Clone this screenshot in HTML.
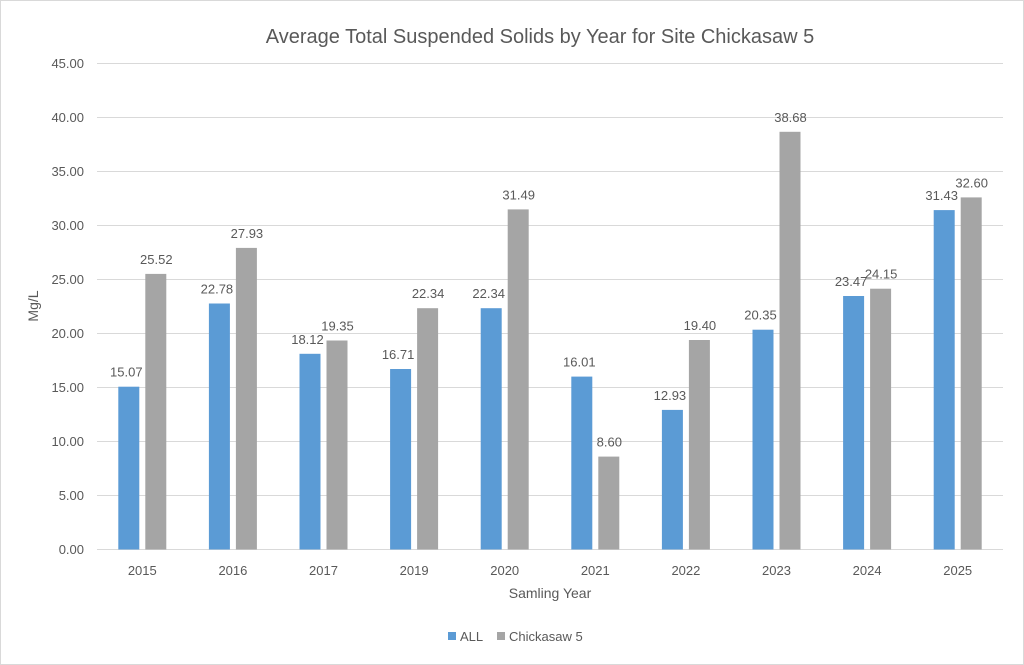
<!DOCTYPE html>
<html><head><meta charset="utf-8"><style>
html,body{margin:0;padding:0;background:#fff}
svg{display:block}
text{font-family:"Liberation Sans",sans-serif;fill:#595959}
</style></head><body>
<svg width="1024" height="665" viewBox="0 0 1024 665" xmlns="http://www.w3.org/2000/svg">
<rect x="0.5" y="0.5" width="1023" height="664" fill="#fff" stroke="#d9d9d9"/>
<text x="540" y="43" font-size="20" text-anchor="middle">Average Total Suspended Solids by Year for Site Chickasaw 5</text>
<g stroke="#d9d9d9" stroke-width="1">
<line x1="97" x2="1003" y1="63.5" y2="63.5"/><line x1="97" x2="1003" y1="117.5" y2="117.5"/>
<line x1="97" x2="1003" y1="171.5" y2="171.5"/><line x1="97" x2="1003" y1="225.5" y2="225.5"/>
<line x1="97" x2="1003" y1="279.5" y2="279.5"/><line x1="97" x2="1003" y1="333.5" y2="333.5"/>
<line x1="97" x2="1003" y1="387.5" y2="387.5"/><line x1="97" x2="1003" y1="441.5" y2="441.5"/>
<line x1="97" x2="1003" y1="495.5" y2="495.5"/><line x1="97" x2="1003" y1="549.5" y2="549.5"/>
</g>
<g font-size="13" text-anchor="end">
<text x="84" y="68">45.00</text><text x="84" y="122">40.00</text><text x="84" y="176">35.00</text>
<text x="84" y="230">30.00</text><text x="84" y="284">25.00</text><text x="84" y="338">20.00</text>
<text x="84" y="392">15.00</text><text x="84" y="446">10.00</text><text x="84" y="500">5.00</text>
<text x="84" y="554">0.00</text>
</g>
<text x="38" y="306" font-size="14" text-anchor="middle" transform="rotate(-90 38 306)">Mg/L</text>
<g fill="#5b9bd5">
<rect x="118.3" y="386.7" width="21" height="162.8"/>
<rect x="208.9" y="303.5" width="21" height="246"/>
<rect x="299.5" y="353.8" width="21" height="195.7"/>
<rect x="390.1" y="369.0" width="21" height="180.5"/>
<rect x="480.7" y="308.2" width="21" height="241.3"/>
<rect x="571.3" y="376.6" width="21" height="172.9"/>
<rect x="661.9" y="409.9" width="21" height="139.6"/>
<rect x="752.5" y="329.7" width="21" height="219.8"/>
<rect x="843.1" y="296.0" width="21" height="253.5"/>
<rect x="933.7" y="210.1" width="21" height="339.4"/>
</g>
<g fill="#a5a5a5">
<rect x="145.3" y="273.9" width="21" height="275.6"/>
<rect x="235.9" y="247.9" width="21" height="301.6"/>
<rect x="326.5" y="340.5" width="21" height="209"/>
<rect x="417.1" y="308.2" width="21" height="241.3"/>
<rect x="507.7" y="209.4" width="21" height="340.1"/>
<rect x="598.3" y="456.6" width="21" height="92.9"/>
<rect x="688.9" y="340.0" width="21" height="209.5"/>
<rect x="779.5" y="131.8" width="21" height="417.7"/>
<rect x="870.1" y="288.7" width="21" height="260.8"/>
<rect x="960.7" y="197.4" width="21" height="352.1"/>
</g>
<g font-size="13" text-anchor="middle">
<text x="126.3" y="376.7">15.07</text><text x="156.3" y="263.9">25.52</text>
<text x="216.9" y="293.5">22.78</text><text x="246.9" y="237.9">27.93</text>
<text x="307.5" y="343.8">18.12</text><text x="337.5" y="330.5">19.35</text>
<text x="398.1" y="359.0">16.71</text><text x="428.1" y="298.2">22.34</text>
<text x="488.7" y="298.2">22.34</text><text x="518.7" y="199.4">31.49</text>
<text x="579.3" y="366.6">16.01</text><text x="609.3" y="446.6">8.60</text>
<text x="669.9" y="399.9">12.93</text><text x="699.9" y="330.0">19.40</text>
<text x="760.5" y="319.7">20.35</text><text x="790.5" y="121.8">38.68</text>
<text x="851.1" y="286.0">23.47</text><text x="881.1" y="278.7">24.15</text>
<text x="941.7" y="200.1">31.43</text><text x="971.7" y="187.4">32.60</text>
</g>
<g font-size="13" text-anchor="middle">
<text x="142.3" y="575">2015</text><text x="232.9" y="575">2016</text><text x="323.5" y="575">2017</text>
<text x="414.1" y="575">2019</text><text x="504.7" y="575">2020</text><text x="595.3" y="575">2021</text>
<text x="685.9" y="575">2022</text><text x="776.5" y="575">2023</text><text x="867.1" y="575">2024</text>
<text x="957.7" y="575">2025</text>
</g>
<text x="550" y="598" font-size="14" text-anchor="middle">Samling Year</text>
<rect x="448" y="632" width="8" height="8" fill="#5b9bd5"/>
<text x="460" y="641" font-size="13">ALL</text>
<rect x="497" y="632" width="8" height="8" fill="#a5a5a5"/>
<text x="509" y="641" font-size="13">Chickasaw 5</text>
</svg>
</body></html>
